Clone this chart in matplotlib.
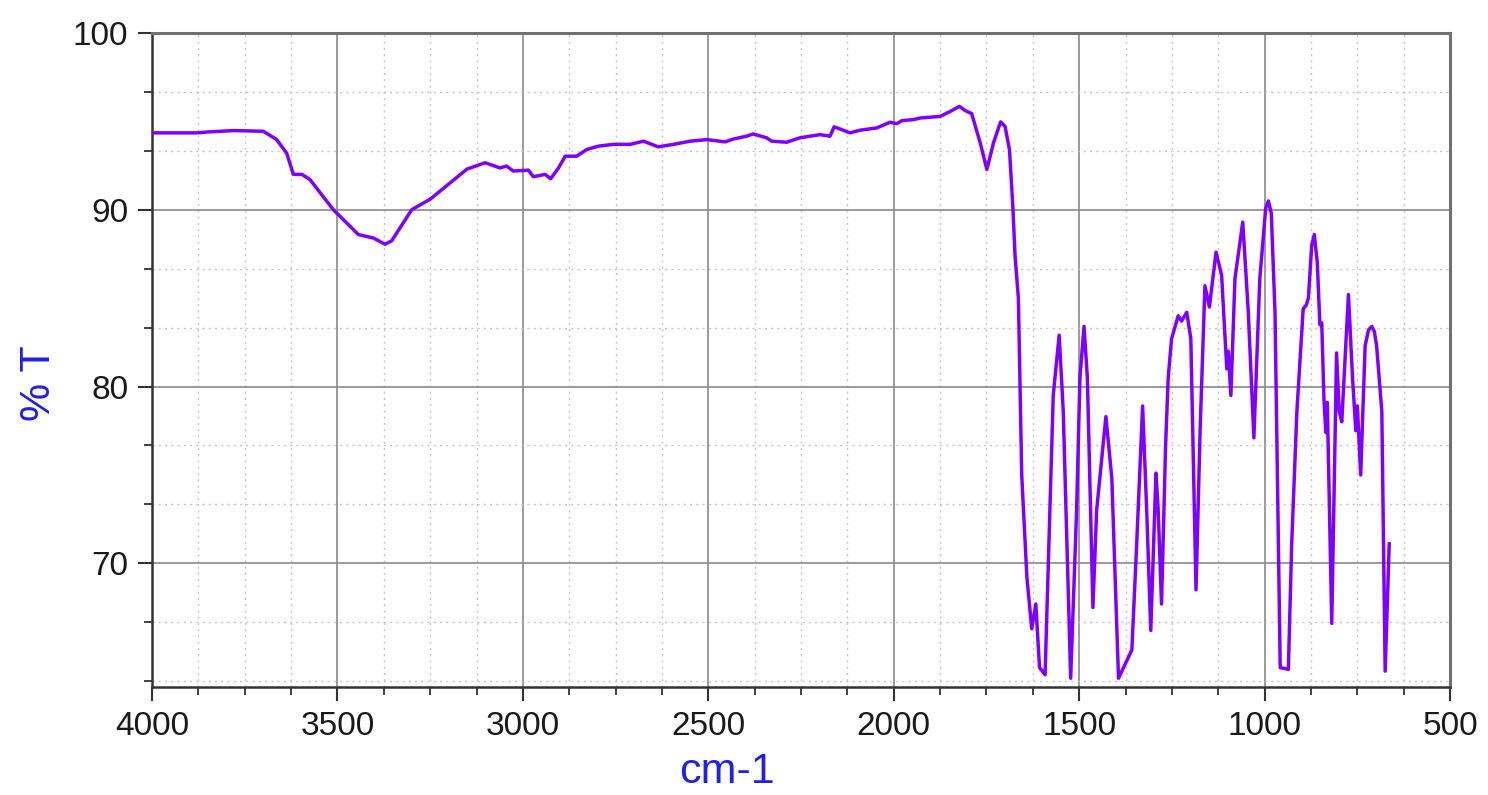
import matplotlib.pyplot as plt
from matplotlib.ticker import MultipleLocator, AutoMinorLocator

# IR spectrum, wavenumber (cm-1) vs transmittance (%)
wavenumber = [3998, 3880, 3850, 3781, 3700, 3664, 3637, 3619, 3596, 3574,
              3511, 3444, 3403, 3372, 3354, 3300, 3250, 3151, 3102, 3080,
              3062, 3044, 3026, 2985, 2972, 2940, 2925, 2904, 2886, 2855,
              2828, 2796, 2756, 2711, 2675, 2635, 2594, 2549, 2504, 2455,
              2433, 2397, 2379, 2343, 2329, 2289, 2253, 2199, 2172, 2161,
              2145, 2118, 2091, 2046, 2010, 1992, 1978, 1947, 1929, 1875,
              1848, 1823, 1808, 1790, 1767, 1749, 1731, 1712, 1700, 1688,
              1679, 1673, 1664, 1655, 1641, 1628, 1617, 1607, 1592, 1579,
              1570, 1554, 1543, 1523, 1507, 1498, 1487, 1478, 1463, 1453,
              1428, 1412, 1394, 1358, 1345, 1329, 1318, 1307, 1293, 1287,
              1278, 1267, 1260, 1251, 1233, 1224, 1210, 1199, 1185, 1174,
              1161, 1149, 1131, 1116, 1107, 1102, 1098, 1091, 1080, 1059,
              1044, 1029, 1013, 997, 990, 982, 972, 963, 958, 936,
              927, 913, 896, 888, 882, 873, 866, 858, 851, 846,
              840, 835, 831, 819, 806, 799, 792, 774, 763, 754,
              750, 741, 729, 720, 711, 704, 698, 684, 675, 664]
transmittance = [94.35, 94.35, 94.40, 94.48, 94.44, 93.97, 93.2, 92.0, 92.0, 91.7,
                 90.0, 88.6, 88.4, 88.05, 88.24, 90.0, 90.6, 92.3, 92.66, 92.5,
                 92.37, 92.47, 92.19, 92.24, 91.87, 92.0, 91.76, 92.37, 93.03, 93.03,
                 93.41, 93.6, 93.7, 93.7, 93.88, 93.56, 93.7, 93.88, 93.97, 93.84,
                 94.0, 94.16, 94.29, 94.07, 93.88, 93.82, 94.07, 94.25, 94.16, 94.69,
                 94.57, 94.35, 94.5, 94.63, 94.95, 94.87, 95.04, 95.1, 95.19, 95.28,
                 95.56, 95.85, 95.62, 95.44, 93.79, 92.28, 93.79, 94.97, 94.72, 93.4,
                 90.2, 87.4, 85.0, 75.0, 69.2, 66.3, 67.7, 64.1, 63.7, 73.0,
                 79.5, 82.9, 78.6, 63.5, 73.0, 80.5, 83.4, 80.5, 67.5, 73.0,
                 78.3, 74.8, 63.5, 65.1, 71.1, 78.9, 73.0, 66.2, 75.1, 73.0,
                 67.7, 76.7, 80.5, 82.7, 84.0, 83.7, 84.2, 82.7, 68.5, 77.5,
                 85.7, 84.5, 87.6, 86.3, 82.9, 81.0, 82.0, 79.5, 86.1, 89.3,
                 84.2, 77.1, 86.1, 90.1, 90.5, 89.8, 84.2, 71.1, 64.1, 64.0,
                 71.1, 78.6, 84.4, 84.6, 85.0, 88.0, 88.6, 87.0, 83.5, 83.6,
                 79.3, 77.4, 79.1, 66.6, 81.9, 78.6, 78.0, 85.2, 80.5, 77.5,
                 78.9, 75.0, 82.3, 83.2, 83.4, 83.1, 82.3, 78.6, 63.9, 71.1]

plt.rcParams['font.family'] = ['Liberation Sans', 'DejaVu Sans']

fig = plt.figure(figsize=(14.88, 7.95), dpi=100)
ax = fig.add_axes([0.1022, 0.1358, 0.8723, 0.8227])

ax.plot(wavenumber, transmittance, color='#8000ff', lw=2.5,
        solid_joinstyle='round', zorder=3)

ax.set_xlim(4000, 500)
ax.set_ylim(63.0, 100)

ax.xaxis.set_major_locator(MultipleLocator(500))
ax.xaxis.set_minor_locator(AutoMinorLocator(4))
ax.yaxis.set_major_locator(MultipleLocator(10))
ax.yaxis.set_minor_locator(AutoMinorLocator(3))

ax.grid(which='major', color='#8a8a8a', lw=1.2, ls='-')
ax.grid(which='minor', color='#c4c4c4', lw=1.0, ls=(0, (1.5, 3)))
ax.set_axisbelow(True)

ax.tick_params(which='major', direction='out', length=10, width=1.5,
               color='#333333', labelsize=24, labelcolor='#1a1a1a', pad=7)
ax.tick_params(which='minor', direction='out', length=6, width=1.3, color='#333333')

for side in ['left', 'bottom']:
    ax.spines[side].set_color('#333333')
    ax.spines[side].set_linewidth(1.8)
for side in ['top', 'right']:
    ax.spines[side].set_color('#707070')
    ax.spines[side].set_linewidth(2.2)

ax.set_xlabel('cm-1', color='#2020e6', fontsize=31)
ax.set_ylabel('% T', color='#2020e6', fontsize=31)
ax.xaxis.set_label_coords(0.443, -0.1)
ax.yaxis.set_label_coords(-0.072, 0.465)

fig.savefig('out.png', dpi=100)
